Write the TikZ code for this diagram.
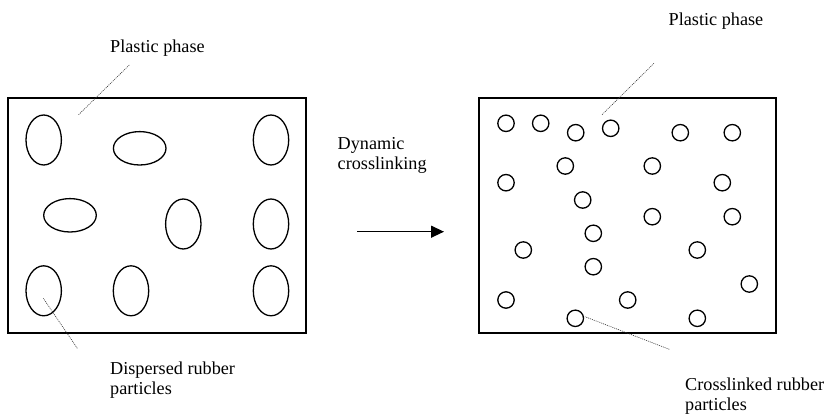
\documentclass[tikz,border=0pt]{standalone}
\usepackage{fontspec}
\setmainfont{Liberation Serif}
\newfontfamily\tnrfont{Liberation Serif}
\usetikzlibrary{arrows.meta,shapes.geometric}
\begin{document}
\begin{tikzpicture}[x=1pt,y=-1pt,
  lbl/.style={anchor=base west,inner sep=0pt,font=\tnrfont\fontsize{18.2}{21}\selectfont},
  frame/.style={draw,line width=1.2pt},
  vpart/.style={draw,line width=1.3pt,ellipse,minimum width=35.4pt,minimum height=50pt,inner sep=0pt},
  hpart/.style={draw,line width=1.3pt,ellipse,minimum width=52.6pt,minimum height=33.4pt,inner sep=0pt},
  cpart/.style={draw,line width=1.3pt,circle,minimum size=16.4pt,inner sep=0pt},
  leader/.style={draw=black!80,line width=0.6pt,dash pattern=on 1pt off 1pt},
  flow/.style={draw,line width=1.3pt,-{Triangle[length=13pt,width=12pt]}}]
\useasboundingbox (0,0) rectangle (826,414);
% boxes
\node[frame,minimum width=298pt,minimum height=235pt,inner sep=0pt] (boxL) at (157,215.5) {};
\node[frame,minimum width=297pt,minimum height=235pt,inner sep=0pt] (boxR) at (627.5,215.5) {};
% left particles
\node[vpart] (e1) at (43.7,140) {};
\node[hpart] (e2) at (139.7,148.3) {};
\node[vpart] (e3) at (271,140) {};
\node[hpart] (e4) at (70,215.3) {};
\node[vpart] (e5) at (183.3,224) {};
\node[vpart] (e6) at (271,224) {};
\node[vpart] (e7) at (43.7,290.8) {};
\node[vpart] (e8) at (131,290.8) {};
\node[vpart] (e9) at (271,290.8) {};
% right particles
\foreach \n/\px/\py in {1/506/123.3,2/540.7/123.3,3/575.7/132.7,4/610.7/128.3,5/680.3/132.7,6/732.3/132.7,
  7/565.3/166,8/652.3/166,9/506/182.7,10/722.3/182.7,11/582.7/200,12/652.3/216.7,13/732.3/216.7,
  14/593.3/233.3,15/523.3/250,16/697.3/250,17/593.3/266.7,18/749.3/284,19/506/300,20/627.7/300,
  21/575.3/318.3,22/697.3/318.3}
  \node[cpart] (c\n) at (\px,\py) {};
% labels
\node[lbl] (plL) at (110,53) {Plastic phase};
\node[lbl] (dr1) at (110,374) {Dispersed rubber};
\node[lbl] (dr2) at (110,394.5) {particles};
\node[lbl] (dy1) at (337.5,149.5) {Dynamic};
\node[lbl] (dy2) at (337.5,170) {crosslinking};
\node[lbl] (plR) at (668.5,26) {Plastic phase};
\node[lbl] (cr1) at (685,390) {Crosslinked rubber};
\node[lbl] (cr2) at (685,410) {particles};
% leader ends
\coordinate (pLa) at (129.3,65);
\coordinate (pLb) at (78.3,115);
\coordinate (dLa) at (77.3,348.3);
\coordinate (dLb) at (43.3,298.3);
\coordinate (pRa) at (654,63.3);
\coordinate (pRb) at (601.7,115);
\coordinate (cRa) at (669.3,349.3);
\coordinate (cRb) at (585,316.7);
\draw[leader] (pLa) -- (pLb);
\draw[leader] (dLa) -- (dLb);
\draw[leader] (pRa) -- (pRb);
\draw[leader] (cRa) -- (cRb);
% arrow
\coordinate (arA) at (357.3,231.7);
\coordinate (arB) at (444,231.7);
\draw[flow] (arA) -- (arB);
\end{tikzpicture}
\end{document}
